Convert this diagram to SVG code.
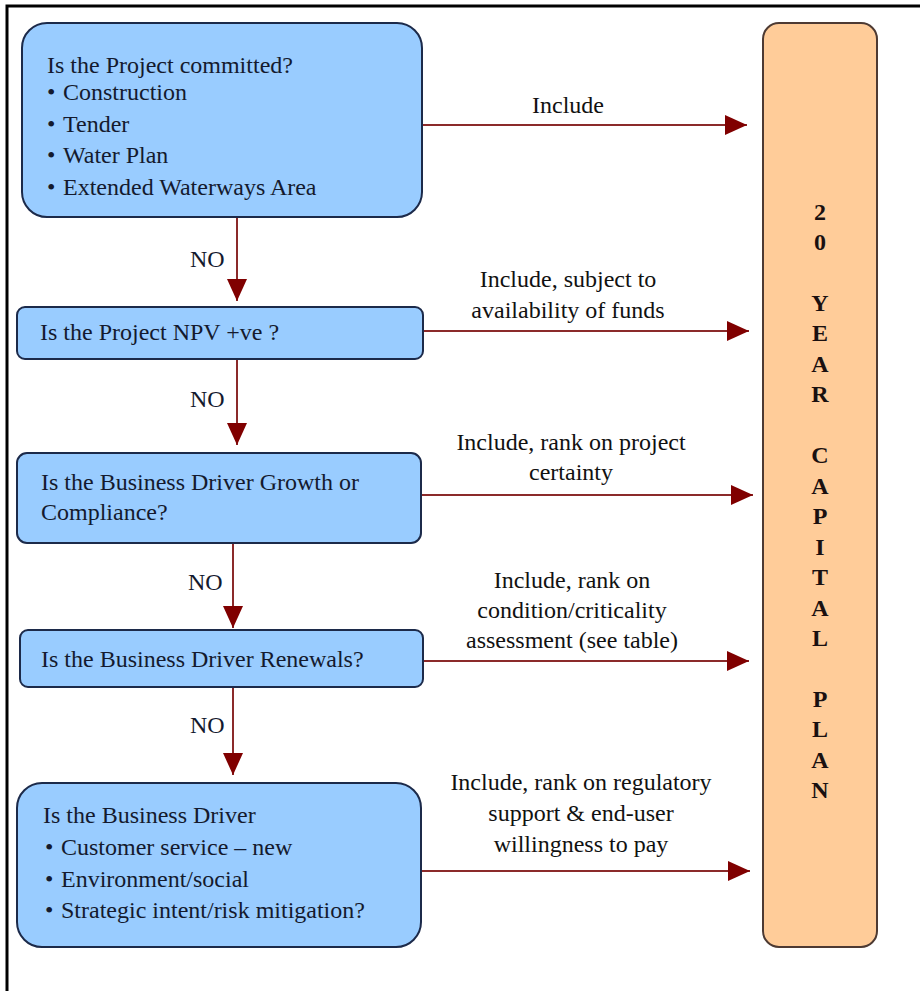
<svg xmlns="http://www.w3.org/2000/svg" width="920" height="991" viewBox="0 0 920 991">
<style>
.frame{stroke:#000;stroke-width:3;fill:none}
.q{fill:#99CCFF;stroke:#1c2a4a;stroke-width:2}
.plan{fill:#FFCC99;stroke:#4d3a33;stroke-width:2}
.t{font-family:"Liberation Serif","Times New Roman",serif;font-size:24px;fill:#141a2e}
.lbl{font-family:"Liberation Serif","Times New Roman",serif;font-size:24px;fill:#111;text-anchor:middle}
.v{font-family:"Liberation Serif","Times New Roman",serif;font-size:24px;font-weight:bold;fill:#1a1010;text-anchor:middle}
.c{stroke:#8b2a2a;stroke-width:2;fill:none;marker-end:url(#ah)}
</style>
<defs>
<marker id="ah" viewBox="0 0 22 20" refX="22" refY="10" markerWidth="22" markerHeight="20" markerUnits="userSpaceOnUse" orient="auto">
<path d="M0,0 L22,10 L0,20 z" fill="#800000"/>
</marker>
</defs>
<rect width="920" height="991" fill="#fff"/>
<path class="frame" d="M7,991 L7,6 L920,6"/>

<g id="connectors">
<line class="c" x1="423" y1="125" x2="747" y2="125"/>
<line class="c" x1="424" y1="331" x2="749" y2="331"/>
<line class="c" x1="421" y1="495" x2="753" y2="495"/>
<line class="c" x1="424" y1="661" x2="749" y2="661"/>
<line class="c" x1="422" y1="871" x2="750" y2="871"/>
<line class="c" x1="237" y1="218" x2="237" y2="301"/>
<line class="c" x1="237" y1="360" x2="237" y2="445"/>
<line class="c" x1="233" y1="544" x2="233" y2="628"/>
<line class="c" x1="233" y1="688" x2="233" y2="775"/>
<text class="lbl" x="568" y="113">Include</text>
<text class="lbl" x="568" y="287">Include, subject to</text>
<text class="lbl" x="568" y="318">availability of funds</text>
<text class="lbl" x="571" y="450">Include, rank on project</text>
<text class="lbl" x="571" y="480">certainty</text>
<text class="lbl" x="572" y="588">Include, rank on</text>
<text class="lbl" x="572" y="618">condition/criticality</text>
<text class="lbl" x="572" y="648">assessment (see table)</text>
<text class="lbl" x="581" y="790">Include, rank on regulatory</text>
<text class="lbl" x="581" y="821">support &amp; end-user</text>
<text class="lbl" x="581" y="852">willingness to pay</text>
<text class="t" x="190" y="267">NO</text>
<text class="t" x="190" y="407">NO</text>
<text class="t" x="188" y="590">NO</text>
<text class="t" x="190" y="733">NO</text>
</g>

<g id="q1">
<rect class="q" x="22" y="23" width="400" height="194" rx="25" ry="25"/>
<text class="t" x="47" y="73">Is the Project committed?</text>
<text class="t" x="47" y="100">•</text><text class="t" x="63" y="100">Construction</text>
<text class="t" x="47" y="132">•</text><text class="t" x="63" y="132">Tender</text>
<text class="t" x="47" y="163">•</text><text class="t" x="63" y="163">Water Plan</text>
<text class="t" x="47" y="195">•</text><text class="t" x="63" y="195">Extended Waterways Area</text>
</g>

<g id="q2">
<rect class="q" x="17" y="307" width="406" height="52" rx="8" ry="8"/>
<text class="t" x="40" y="340">Is the Project NPV +ve ?</text>
</g>

<g id="q3">
<rect class="q" x="17" y="453" width="404" height="90" rx="10" ry="10"/>
<text class="t" x="41" y="490">Is the Business Driver Growth or</text>
<text class="t" x="41" y="520">Compliance?</text>
</g>

<g id="q4">
<rect class="q" x="20" y="630" width="403" height="57" rx="8" ry="8"/>
<text class="t" x="41" y="667">Is the Business Driver Renewals?</text>
</g>

<g id="q5">
<rect class="q" x="17" y="783" width="404" height="164" rx="25" ry="25"/>
<text class="t" x="43" y="823">Is the Business Driver</text>
<text class="t" x="45" y="855">•</text><text class="t" x="61" y="855">Customer service – new</text>
<text class="t" x="45" y="887">•</text><text class="t" x="61" y="887">Environment/social</text>
<text class="t" x="45" y="918">•</text><text class="t" x="61" y="918">Strategic intent/risk mitigation?</text>
</g>

<g id="plan">
<rect class="plan" x="763" y="23" width="114" height="924" rx="16" ry="16"/>
<text class="v" x="820" y="220">2</text>
<text class="v" x="820" y="250">0</text>
<text class="v" x="820" y="311">Y</text>
<text class="v" x="820" y="341">E</text>
<text class="v" x="820" y="372">A</text>
<text class="v" x="820" y="402">R</text>
<text class="v" x="820" y="463">C</text>
<text class="v" x="820" y="494">A</text>
<text class="v" x="820" y="524">P</text>
<text class="v" x="820" y="555">I</text>
<text class="v" x="820" y="585">T</text>
<text class="v" x="820" y="616">A</text>
<text class="v" x="820" y="646">L</text>
<text class="v" x="820" y="707">P</text>
<text class="v" x="820" y="737">L</text>
<text class="v" x="820" y="768">A</text>
<text class="v" x="820" y="798">N</text>
</g>
</svg>
